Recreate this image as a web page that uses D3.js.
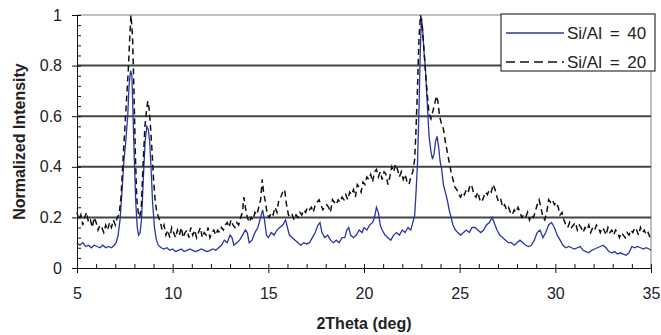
<!DOCTYPE html>
<html>
<head>
<meta charset="utf-8">
<script src="https://cdn.jsdelivr.net/npm/d3@7"></script>
<style>
  body { margin: 0; background: #fff; }
  svg { display: block; font-family: Arial, "Liberation Sans", sans-serif; }
  .axis text { fill: #222; font-size: 16px; }
  .axis path, .axis line { stroke: #111; }
</style>
</head>
<body>
<div id="chart"></div>
<script>
// 2Theta (deg) vs normalized intensity
var si40 = [
  [5.0,0.10],[5.15,0.09],[5.3,0.10],[5.45,0.085],[5.6,0.09],[5.75,0.08],[5.9,0.09],[6.05,0.085],
  [6.2,0.08],[6.35,0.09],[6.5,0.08],[6.65,0.085],[6.8,0.08],[6.95,0.09],[7.05,0.10],[7.15,0.13],
  [7.25,0.19],[7.35,0.30],[7.45,0.42],[7.55,0.50],[7.65,0.60],[7.72,0.72],[7.8,0.78],[7.87,0.76],
  [7.93,0.60],[8.0,0.42],[8.07,0.26],[8.15,0.16],[8.22,0.13],[8.3,0.14],[8.38,0.20],[8.47,0.36],
  [8.56,0.50],[8.65,0.56],[8.72,0.55],[8.8,0.50],[8.88,0.38],[8.95,0.26],[9.05,0.16],[9.15,0.11],
  [9.25,0.09],[9.4,0.08],[9.55,0.075],[9.7,0.08],[9.85,0.07],[10.0,0.075],[10.15,0.065],[10.3,0.07],
  [10.45,0.075],[10.6,0.065],[10.75,0.07],[10.9,0.075],[11.05,0.07],[11.2,0.065],[11.35,0.07],
  [11.5,0.075],[11.65,0.07],[11.8,0.065],[11.95,0.07],[12.1,0.075],[12.25,0.07],[12.4,0.08],
  [12.55,0.09],[12.7,0.11],[12.85,0.10],[13.0,0.13],[13.1,0.12],[13.2,0.09],[13.35,0.10],[13.5,0.11],
  [13.65,0.13],[13.8,0.15],[13.9,0.14],[14.0,0.10],[14.15,0.11],[14.3,0.14],[14.45,0.16],[14.6,0.20],
  [14.7,0.23],[14.8,0.19],[14.9,0.13],[15.0,0.12],[15.15,0.14],[15.3,0.13],[15.45,0.15],[15.6,0.16],
  [15.75,0.17],[15.9,0.19],[16.0,0.16],[16.1,0.13],[16.25,0.12],[16.4,0.11],[16.55,0.10],[16.7,0.09],
  [16.85,0.10],[17.0,0.095],[17.15,0.10],[17.3,0.12],[17.45,0.14],[17.6,0.17],[17.7,0.18],[17.8,0.14],
  [17.95,0.12],[18.1,0.13],[18.25,0.11],[18.4,0.10],[18.55,0.11],[18.7,0.10],[18.85,0.12],[19.0,0.12],
  [19.1,0.15],[19.2,0.16],[19.3,0.13],[19.45,0.12],[19.6,0.13],[19.75,0.15],[19.9,0.14],[20.0,0.16],
  [20.15,0.15],[20.3,0.17],[20.45,0.18],[20.55,0.20],[20.65,0.24],[20.75,0.22],[20.85,0.17],[20.95,0.15],
  [21.1,0.13],[21.25,0.12],[21.4,0.11],[21.55,0.13],[21.7,0.14],[21.85,0.13],[22.0,0.15],[22.15,0.14],
  [22.3,0.16],[22.45,0.15],[22.55,0.18],[22.65,0.21],[22.72,0.30],[22.8,0.42],[22.87,0.62],[22.94,0.85],
  [23.0,0.99],[23.06,0.95],[23.13,0.86],[23.2,0.80],[23.3,0.66],[23.4,0.52],[23.5,0.46],[23.58,0.43],
  [23.66,0.45],[23.74,0.50],[23.82,0.52],[23.9,0.48],[23.98,0.42],[24.06,0.39],[24.15,0.33],[24.25,0.30],
  [24.35,0.27],[24.45,0.23],[24.55,0.20],[24.65,0.17],[24.78,0.15],[24.9,0.14],[25.05,0.13],[25.2,0.14],
  [25.35,0.15],[25.5,0.14],[25.65,0.16],[25.8,0.16],[25.95,0.15],[26.1,0.14],[26.25,0.15],[26.4,0.17],
  [26.55,0.18],[26.7,0.20],[26.8,0.18],[26.95,0.15],[27.1,0.13],[27.25,0.12],[27.4,0.11],[27.55,0.10],
  [27.7,0.10],[27.85,0.09],[28.0,0.10],[28.15,0.11],[28.3,0.10],[28.45,0.09],[28.6,0.085],[28.75,0.09],
  [28.9,0.11],[29.05,0.14],[29.2,0.15],[29.35,0.12],[29.5,0.14],[29.65,0.17],[29.8,0.18],[29.95,0.16],
  [30.1,0.13],[30.25,0.11],[30.4,0.09],[30.55,0.08],[30.7,0.085],[30.85,0.08],[31.0,0.075],[31.15,0.08],
  [31.3,0.085],[31.45,0.07],[31.6,0.065],[31.75,0.06],[31.9,0.07],[32.05,0.075],[32.2,0.08],[32.35,0.085],
  [32.5,0.09],[32.65,0.08],[32.8,0.065],[32.95,0.06],[33.1,0.065],[33.25,0.055],[33.4,0.06],[33.55,0.055],
  [33.7,0.05],[33.85,0.06],[34.0,0.085],[34.15,0.08],[34.3,0.085],[34.45,0.08],[34.6,0.075],[34.75,0.08],
  [34.9,0.075],[35.0,0.07]
];

var si20 = [
  [5.0,0.22],[5.1,0.19],[5.2,0.21],[5.3,0.17],[5.4,0.20],[5.5,0.22],[5.6,0.18],[5.7,0.19],[5.8,0.16],
  [5.9,0.20],[6.0,0.18],[6.1,0.15],[6.2,0.17],[6.3,0.16],[6.4,0.14],[6.5,0.17],[6.6,0.15],[6.7,0.18],
  [6.8,0.16],[6.9,0.19],[7.0,0.17],[7.1,0.20],[7.2,0.21],[7.3,0.28],[7.4,0.42],[7.5,0.55],[7.6,0.68],
  [7.68,0.78],[7.75,0.90],[7.82,1.00],[7.9,0.92],[7.97,0.72],[8.05,0.45],[8.12,0.28],[8.2,0.22],
  [8.28,0.20],[8.36,0.24],[8.45,0.40],[8.55,0.56],[8.63,0.62],[8.7,0.66],[8.77,0.63],[8.85,0.55],
  [8.93,0.45],[9.0,0.35],[9.08,0.27],[9.17,0.22],[9.27,0.20],[9.36,0.18],[9.45,0.15],[9.55,0.17],
  [9.65,0.13],[9.75,0.15],[9.85,0.12],[9.95,0.16],[10.05,0.14],[10.15,0.12],[10.25,0.15],[10.35,0.13],
  [10.45,0.16],[10.55,0.12],[10.65,0.14],[10.75,0.15],[10.85,0.12],[10.95,0.16],[11.05,0.13],[11.15,0.15],
  [11.25,0.12],[11.35,0.14],[11.45,0.16],[11.55,0.12],[11.65,0.14],[11.75,0.13],[11.85,0.16],[11.95,0.12],
  [12.05,0.14],[12.15,0.15],[12.25,0.13],[12.35,0.15],[12.45,0.14],[12.55,0.16],[12.65,0.15],[12.75,0.17],
  [12.85,0.18],[12.95,0.16],[13.05,0.19],[13.15,0.17],[13.25,0.16],[13.35,0.18],[13.45,0.17],[13.55,0.20],
  [13.65,0.22],[13.72,0.28],[13.8,0.24],[13.9,0.20],[14.0,0.18],[14.1,0.20],[14.2,0.19],[14.3,0.22],
  [14.4,0.21],[14.5,0.24],[14.6,0.27],[14.68,0.35],[14.75,0.30],[14.85,0.26],[14.95,0.21],[15.05,0.20],
  [15.15,0.22],[15.25,0.21],[15.35,0.24],[15.45,0.22],[15.55,0.27],[15.65,0.28],[15.75,0.30],[15.85,0.31],
  [15.95,0.25],[16.05,0.21],[16.15,0.20],[16.25,0.21],[16.35,0.19],[16.45,0.21],[16.55,0.20],[16.65,0.22],
  [16.75,0.21],[16.85,0.23],[16.95,0.22],[17.05,0.24],[17.15,0.23],[17.25,0.24],[17.35,0.22],[17.45,0.25],
  [17.55,0.26],[17.65,0.27],[17.75,0.25],[17.85,0.23],[17.95,0.24],[18.05,0.25],[18.15,0.24],[18.25,0.22],
  [18.35,0.27],[18.45,0.26],[18.55,0.25],[18.65,0.27],[18.75,0.26],[18.85,0.28],[18.95,0.27],[19.05,0.29],
  [19.15,0.27],[19.25,0.30],[19.35,0.29],[19.45,0.31],[19.55,0.28],[19.65,0.33],[19.75,0.32],[19.85,0.30],
  [19.95,0.34],[20.05,0.33],[20.15,0.36],[20.25,0.35],[20.35,0.37],[20.45,0.34],[20.55,0.38],[20.65,0.39],
  [20.75,0.36],[20.85,0.38],[20.95,0.35],[21.05,0.38],[21.15,0.37],[21.25,0.33],[21.35,0.36],[21.45,0.40],
  [21.55,0.38],[21.65,0.41],[21.75,0.39],[21.85,0.36],[21.95,0.38],[22.05,0.35],[22.15,0.37],[22.25,0.34],
  [22.35,0.33],[22.45,0.36],[22.55,0.38],[22.65,0.43],[22.72,0.55],[22.8,0.72],[22.87,0.90],[22.95,1.00],
  [23.02,0.97],[23.1,0.90],[23.2,0.79],[23.3,0.69],[23.4,0.61],[23.5,0.59],[23.6,0.62],[23.7,0.65],
  [23.78,0.68],[23.86,0.66],[23.95,0.60],[24.05,0.57],[24.15,0.55],[24.25,0.50],[24.35,0.46],[24.45,0.42],
  [24.55,0.38],[24.65,0.35],[24.75,0.32],[24.85,0.31],[24.95,0.29],[25.05,0.28],[25.15,0.30],[25.25,0.29],
  [25.35,0.31],[25.45,0.30],[25.55,0.33],[25.65,0.32],[25.75,0.29],[25.85,0.28],[25.95,0.30],[26.05,0.27],
  [26.15,0.26],[26.25,0.28],[26.35,0.30],[26.45,0.29],[26.55,0.31],[26.65,0.30],[26.75,0.33],[26.85,0.31],
  [26.95,0.28],[27.05,0.26],[27.15,0.27],[27.25,0.24],[27.35,0.25],[27.45,0.23],[27.55,0.24],[27.65,0.22],
  [27.75,0.21],[27.85,0.23],[27.95,0.22],[28.05,0.24],[28.15,0.22],[28.25,0.20],[28.35,0.21],[28.45,0.20],
  [28.55,0.22],[28.65,0.19],[28.75,0.21],[28.85,0.20],[28.95,0.22],[29.05,0.25],[29.15,0.27],[29.25,0.24],
  [29.35,0.20],[29.45,0.19],[29.55,0.22],[29.65,0.27],[29.75,0.26],[29.85,0.27],[29.95,0.25],[30.05,0.26],
  [30.15,0.24],[30.25,0.21],[30.35,0.22],[30.45,0.19],[30.55,0.17],[30.65,0.16],[30.75,0.18],[30.85,0.16],
  [30.95,0.17],[31.05,0.18],[31.15,0.15],[31.25,0.17],[31.35,0.16],[31.45,0.14],[31.55,0.16],[31.65,0.15],
  [31.75,0.17],[31.85,0.14],[31.95,0.16],[32.05,0.15],[32.15,0.17],[32.25,0.16],[32.35,0.14],[32.45,0.16],
  [32.55,0.15],[32.65,0.13],[32.75,0.16],[32.85,0.14],[32.95,0.15],[33.05,0.13],[33.15,0.15],[33.25,0.14],
  [33.35,0.12],[33.45,0.14],[33.55,0.13],[33.65,0.12],[33.75,0.14],[33.85,0.13],[33.95,0.15],[34.05,0.14],
  [34.15,0.16],[34.25,0.15],[34.35,0.13],[34.45,0.16],[34.55,0.14],[34.65,0.15],[34.75,0.13],[34.85,0.14],
  [34.95,0.12],[35.0,0.13]
];

var seriesNames = ["Si/Al = 40", "Si/Al = 20"];
var xTicks = [5, 10, 15, 20, 25, 30, 35];
var yTicks = [0, 0.2, 0.4, 0.6, 0.8, 1];

var chartW = 661, chartH = 335;
var plotL = 77, plotR = 651, plotT = 15, plotB = 268;

var svg = d3.select("#chart").append("svg")
  .attr("width", chartW)
  .attr("height", chartH);

svg.append("rect").attr("width", chartW).attr("height", chartH).attr("fill", "#fff");

var x = d3.scaleLinear().domain([5, 35]).range([plotL, plotR]);
var y = d3.scaleLinear().domain([0, 1]).range([plotB, plotT]);

// light plot border (top + right)
svg.append("path")
  .attr("d", "M" + plotL + "," + plotT + "H" + plotR + "V" + plotB)
  .attr("fill", "none")
  .attr("stroke", "#aaa")
  .attr("stroke-width", 1.5);

// horizontal gridlines
svg.append("g")
  .selectAll("line")
  .data(yTicks.filter(function(d) { return d > 0 && d < 1; }))
  .enter().append("line")
  .attr("x1", plotL).attr("x2", plotR)
  .attr("y1", function(d) { return y(d); })
  .attr("y2", function(d) { return y(d); })
  .attr("stroke", "#444")
  .attr("stroke-width", 2);

var line = d3.line()
  .x(function(d) { return x(d[0]); })
  .y(function(d) { return y(d[1]); });

svg.append("path")
  .datum(si40)
  .attr("d", line)
  .attr("fill", "none")
  .attr("stroke", "#2b35a8")
  .attr("stroke-width", 1.3);

svg.append("path")
  .datum(si20)
  .attr("d", line)
  .attr("fill", "none")
  .attr("stroke", "#111")
  .attr("stroke-width", 1.5)
  .attr("stroke-dasharray", "6,4");

// minor ticks (inside)
var yMinor = d3.range(0, 1.0001, 0.04);
var xMinor = d3.range(5, 35.0001, 1);

svg.append("g")
  .attr("class", "axis")
  .attr("transform", "translate(" + plotL + ",0)")
  .call(d3.axisRight(y).tickValues(yMinor).tickSize(4).tickSizeOuter(0).tickFormat(""))
  .select(".domain").remove();

svg.append("g")
  .attr("class", "axis")
  .attr("transform", "translate(0," + plotB + ")")
  .call(d3.axisTop(x).tickValues(xMinor).tickSize(4).tickSizeOuter(0).tickFormat(""))
  .select(".domain").remove();

// major axes
svg.append("g")
  .attr("class", "axis")
  .attr("transform", "translate(" + plotL + ",0)")
  .call(d3.axisLeft(y).tickValues(yTicks).tickSize(5).tickSizeOuter(0).tickPadding(10)
    .tickFormat(function(d) { return d; }));

svg.append("g")
  .attr("class", "axis")
  .attr("transform", "translate(0," + plotB + ")")
  .call(d3.axisBottom(x).tickValues(xTicks).tickSize(5).tickSizeOuter(0).tickPadding(15));

// axis titles
svg.append("text")
  .attr("transform", "translate(25," + ((plotT + plotB) / 2) + ") rotate(-90)")
  .attr("text-anchor", "middle")
  .style("font-size", "16px")
  .style("font-weight", "bold")
  .attr("fill", "#222")
  .text("Normalized Intensity");

svg.append("text")
  .attr("x", (plotL + plotR) / 2)
  .attr("y", 329)
  .attr("text-anchor", "middle")
  .style("font-size", "16px")
  .style("font-weight", "bold")
  .attr("fill", "#222")
  .text("2Theta (deg)");

// legend
var legend = svg.append("g");
legend.append("rect")
  .attr("x", 501).attr("y", 14)
  .attr("width", 154).attr("height", 57)
  .attr("fill", "#fff")
  .attr("stroke", "#333")
  .attr("stroke-width", 1.2);

var legendStyle = [
  { stroke: "#2b35a8", dash: null, w: 1.3 },
  { stroke: "#111", dash: "9,5", w: 1.5 }
];

seriesNames.forEach(function(name, i) {
  var ly = 33 + i * 29;
  legend.append("line")
    .attr("x1", 506).attr("x2", 564)
    .attr("y1", ly).attr("y2", ly)
    .attr("stroke", legendStyle[i].stroke)
    .attr("stroke-width", legendStyle[i].w)
    .attr("stroke-dasharray", legendStyle[i].dash);
  legend.append("text")
    .attr("x", 567)
    .attr("y", ly + 6)
    .style("font-size", "17px")
    .style("word-spacing", "3px")
    .attr("fill", "#222")
    .text(name);
});
</script>
</body>
</html>
